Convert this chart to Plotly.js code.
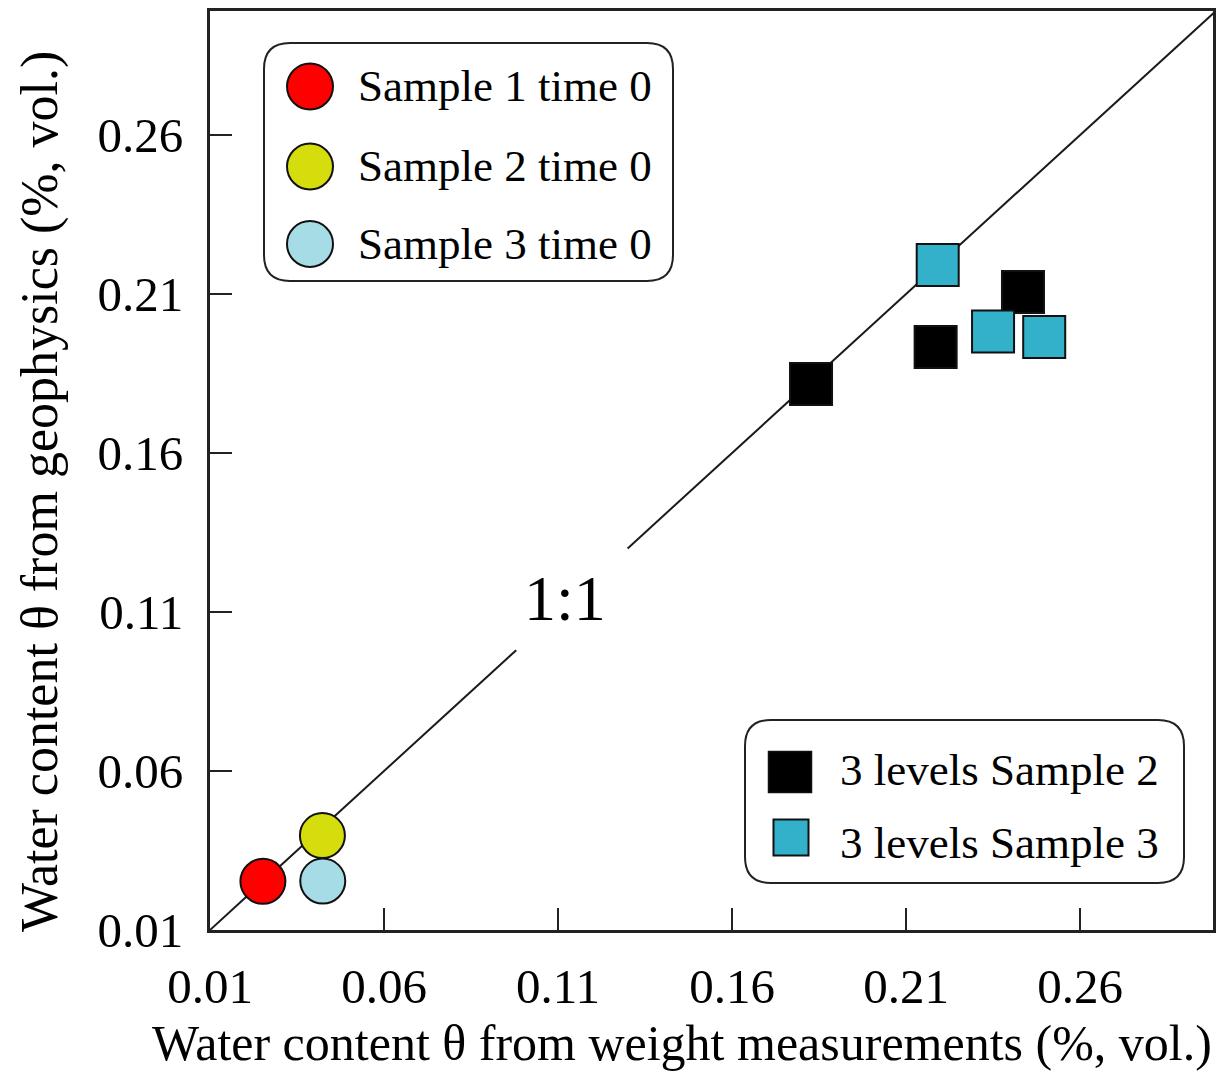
<!DOCTYPE html>
<html>
<head>
<meta charset="utf-8">
<script src="https://cdn.plot.ly/plotly-3.0.1.min.js"></script>
<style>html,body{margin:0;padding:0;background:#fff;}#chart{width:1226px;height:1073px;}</style>
</head>
<body>
<div id="chart"></div>
<script>
// ---- data ----
const sample1X = [0.0252];
const sample1Y = [0.0253];
const sample2X = [0.0423];
const sample2Y = [0.0397];
const sample3X = [0.0424];
const sample3Y = [0.0254];
const levelsS2X = [0.1827, 0.2185, 0.2436];
const levelsS2Y = [0.1817, 0.1933, 0.2106];
const levelsS3X = [0.2191, 0.2350, 0.2497];
const levelsS3Y = [0.2191, 0.1982, 0.1965];
const oneToOneX = [0.01, 0.098, null, 0.13, 0.30];
const oneToOneY = [0.01, 0.098, null, 0.13, 0.30];
const tickVals = [0.01, 0.06, 0.11, 0.16, 0.21, 0.26];
const tickText = ['0.01', '0.06', '0.11', '0.16', '0.21', '0.26'];
const legend1Labels = ['Sample 1 time 0', 'Sample 2 time 0', 'Sample 3 time 0'];
const legend2Labels = ['3 levels Sample 2', '3 levels Sample 3'];
const xTitle = 'Water content θ from weight measurements (%, vol.)';
const yTitle = 'Water content θ from geophysics (%, vol.)';

// ---- styles ----
const FONT = 'Liberation Serif, Times New Roman, serif';
const cRed = '#ff0000', cYellow = '#d5dd0c', cLight = '#a6dce6', cBlack = '#000000', cTeal = '#33b1cb';
const edge = {color: '#111', width: 2};

const traces = [
  {x: oneToOneX, y: oneToOneY, mode: 'lines', line: {color: '#1a1a1a', width: 2}, showlegend: false, hoverinfo: 'skip'},
  {x: sample1X, y: sample1Y, mode: 'markers', name: legend1Labels[0], marker: {symbol: 'circle', size: 45, color: cRed, line: edge}, showlegend: false, cliponaxis: false},
  {x: sample2X, y: sample2Y, mode: 'markers', name: legend1Labels[1], marker: {symbol: 'circle', size: 45, color: cYellow, line: edge}, showlegend: false, cliponaxis: false},
  {x: sample3X, y: sample3Y, mode: 'markers', name: legend1Labels[2], marker: {symbol: 'circle', size: 45, color: cLight, line: edge}, showlegend: false, cliponaxis: false},
  {x: levelsS2X, y: levelsS2Y, mode: 'markers', name: legend2Labels[0], marker: {symbol: 'square', size: 42, color: cBlack, line: edge}, showlegend: false, cliponaxis: false},
  {x: levelsS3X, y: levelsS3Y, mode: 'markers', name: legend2Labels[1], marker: {symbol: 'square', size: 42, color: cTeal, line: edge}, showlegend: false, cliponaxis: false}
];

// plot area geometry (px) for legend / title placement
const L = 210, T = 11, W = 1003, H = 919;
const px2x = p => (p - L) / W;
const py2y = p => (T + H - p) / H;

function roundRect(w, h, r) {
  return `M ${-w + r},${-h} L ${w - r},${-h} Q ${w},${-h} ${w},${-h + r} L ${w},${h - r} Q ${w},${h} ${w - r},${h} ` +
         `L ${-w + r},${h} Q ${-w},${h} ${-w},${h - r} L ${-w},${-h + r} Q ${-w},${-h} ${-w + r},${-h} Z`;
}
function pixShape(type, cx, cy, extra) {
  return Object.assign({type: type, xref: 'paper', yref: 'paper', xsizemode: 'pixel', ysizemode: 'pixel',
    xanchor: px2x(cx), yanchor: py2y(cy), layer: 'above'}, extra);
}

const shapes = [
  pixShape('path', 468.5, 162, {path: roundRect(204.5, 119, 26), fillcolor: 'white', line: {color: '#222', width: 2}}),
  pixShape('path', 964.5, 801.5, {path: roundRect(219.5, 81.5, 26), fillcolor: 'white', line: {color: '#222', width: 2}}),
];
const leg1Colors = [cRed, cYellow, cLight];
const leg1Y = [86.5, 166.5, 244];
leg1Colors.forEach((c, i) => shapes.push(pixShape('circle', 310, leg1Y[i], {x0: -23, x1: 23, y0: -23, y1: 23, fillcolor: c, line: edge})));
shapes.push(pixShape('rect', 790, 772, {x0: -21.5, x1: 21.5, y0: -20.5, y1: 20.5, fillcolor: cBlack, line: {color: '#111', width: 1.5}}));
shapes.push(pixShape('rect', 791, 837.5, {x0: -17.5, x1: 17.5, y0: -18, y1: 18, fillcolor: cTeal, line: {color: '#111', width: 2}}));

const annotations = [];
legend1Labels.forEach((t, i) => annotations.push({text: t, xref: 'paper', yref: 'paper', x: px2x(356), y: py2y(leg1Y[i]),
  xanchor: 'left', yanchor: 'middle', showarrow: false, font: {family: FONT, size: 45, color: '#000'}}));
const leg2Y = [770, 843];
legend2Labels.forEach((t, i) => annotations.push({text: t, xref: 'paper', yref: 'paper', x: px2x(838), y: py2y(leg2Y[i]),
  xanchor: 'left', yanchor: 'middle', showarrow: false, font: {family: FONT, size: 45, color: '#000'}}));
annotations.push({text: '1:1', xref: 'x', yref: 'y', x: 0.112, y: 0.1144, showarrow: false,
  xanchor: 'center', yanchor: 'middle', font: {family: FONT, size: 64, color: '#000'}});
// axis titles (placed as in the reference, slightly off-centre)
annotations.push({text: xTitle, xref: 'paper', yref: 'paper', x: px2x(682), y: py2y(1043), showarrow: false,
  xanchor: 'center', yanchor: 'middle', font: {family: FONT, size: 50, color: '#000'}});
annotations.push({text: yTitle, xref: 'paper', yref: 'paper', x: px2x(40), y: py2y(492), showarrow: false, textangle: -90,
  xanchor: 'center', yanchor: 'middle', font: {family: FONT, size: 52, color: '#000'}});

const axisCommon = {
  tickmode: 'array', tickvals: tickVals, ticktext: tickText,
  ticks: 'inside', ticklen: 22, tickwidth: 2, tickcolor: '#222',
  showline: true, linecolor: '#222', linewidth: 3, mirror: true,
  showgrid: false, zeroline: false,
  tickfont: {family: FONT, size: 49, color: '#000'}
};

const layout = {
  width: 1226, height: 1073,
  margin: {l: L, r: 1226 - L - W, t: T, b: 1073 - T - H},
  paper_bgcolor: '#fff', plot_bgcolor: '#fff',
  showlegend: false,
  xaxis: Object.assign({}, axisCommon, {range: [0.01, 0.2982], ticklabelstandoff: 11}),
  yaxis: Object.assign({}, axisCommon, {range: [0.01, 0.299], ticklabelstandoff: 14}),
  shapes: shapes,
  annotations: annotations
};

Plotly.newPlot('chart', traces, layout, {displayModeBar: false, staticPlot: true});
</script>
</body>
</html>
